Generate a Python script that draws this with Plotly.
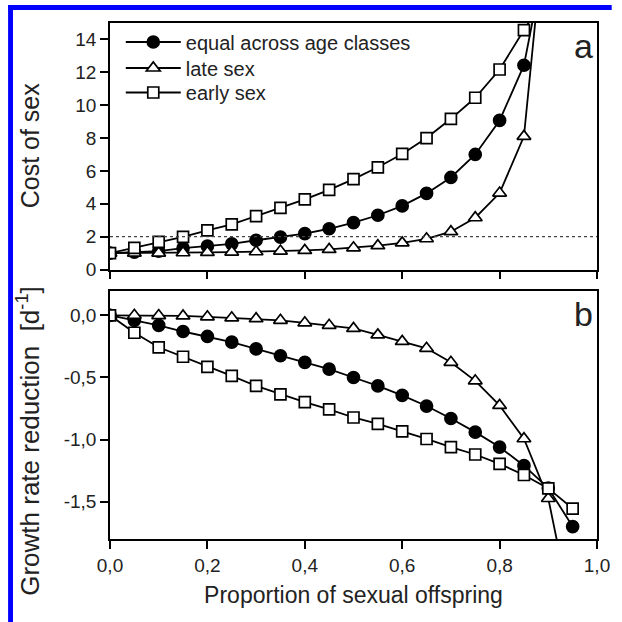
import plotly.graph_objects as go

# ---------------- data ----------------
prop_a = [0.0, 0.05, 0.1, 0.15, 0.2, 0.25, 0.3, 0.35, 0.4, 0.45, 0.5,
          0.55, 0.6, 0.65, 0.7, 0.75, 0.8, 0.85, 0.9]
cost_equal = [1.0, 1.05, 1.12, 1.3, 1.42, 1.56, 1.78, 1.97, 2.18, 2.48, 2.85,
              3.3, 3.87, 4.63, 5.6, 7.0, 9.07, 12.43, 20.0]
cost_late = [1.0, 1.0, 1.0, 1.02, 1.04, 1.06, 1.08, 1.12, 1.16, 1.22, 1.32,
             1.45, 1.62, 1.87, 2.3, 3.15, 4.65, 8.1, 23.1]
cost_early = [1.0, 1.32, 1.68, 1.98, 2.38, 2.75, 3.25, 3.75, 4.27, 4.85, 5.5,
              6.22, 7.03, 8.0, 9.17, 10.45, 12.17, 14.57, 16.9]

prop_b = [0.0, 0.05, 0.1, 0.15, 0.2, 0.25, 0.3, 0.35, 0.4, 0.45, 0.5,
          0.55, 0.6, 0.65, 0.7, 0.75, 0.8, 0.85, 0.9, 0.95]
gr_equal = [0.0, -0.04, -0.08, -0.13, -0.17, -0.215, -0.27, -0.325, -0.378, -0.433, -0.5,
            -0.568, -0.644, -0.73, -0.83, -0.94, -1.06, -1.21, -1.39, -1.70]
gr_late = [0.0, 0.0, -0.002, -0.005, -0.012, -0.02, -0.027, -0.04, -0.06, -0.08, -0.105,
           -0.157, -0.21, -0.265, -0.378, -0.527, -0.725, -0.993, -1.474, -2.43]
gr_early = [0.0, -0.14, -0.257, -0.333, -0.414, -0.487, -0.568, -0.636, -0.698, -0.757, -0.822,
            -0.874, -0.933, -0.995, -1.06, -1.12, -1.195, -1.285, -1.393, -1.555]

series_names = ["equal across age classes", "late sex", "early sex"]
ref_cost = 2.0

x_ticks = [0.0, 0.2, 0.4, 0.6, 0.8, 1.0]
x_ticktext = ["0,0", "0,2", "0,4", "0,6", "0,8", "1,0"]
ya_ticks = [0, 2, 4, 6, 8, 10, 12, 14]
yb_ticks = [-1.5, -1.0, -0.5, 0.0]
yb_ticktext = ["-1,5", "-1,0", "-0,5", "0,0"]

# ---------------- style ----------------
FONT = "Arial"
TXT = "#222222"
W = H = 622
ML, MR, MT, MB = 110, 15, 23, 83
plot_h = H - MT - MB
plot_w = W - ML - MR

def px2paper(p):
    return (p - ML) / plot_w

def py2paper(p):
    return (H - MB - p) / plot_h

dom_a = [py2paper(269.5), 1.0]
dom_b = [0.0, py2paper(290.5)]

styles = [
    dict(symbol="circle", fill="black", size=12),
    dict(symbol="triangle-up", fill="white", size=12),
    dict(symbol="square", fill="white", size=11),
]
legend_ids = ["legend", "legend2", "legend3"]
legend_rows_px = [42, 68, 92.5]

fig = go.Figure()
for name, ys, st, lg in zip(series_names, [cost_equal, cost_late, cost_early], styles, legend_ids):
    fig.add_trace(go.Scatter(
        x=prop_a, y=ys, name=name, mode="lines+markers", legend=lg,
        line=dict(color="black", width=1.8),
        marker=dict(symbol=st["symbol"], size=st["size"], color=st["fill"],
                    line=dict(color="black", width=1.7)),
        xaxis="x", yaxis="y", cliponaxis=True,
    ))
for name, ys, st in zip(series_names, [gr_equal, gr_late, gr_early], styles):
    fig.add_trace(go.Scatter(
        x=prop_b, y=ys, name=name, mode="lines+markers", showlegend=False,
        line=dict(color="black", width=1.8),
        marker=dict(symbol=st["symbol"], size=st["size"], color=st["fill"],
                    line=dict(color="black", width=1.7)),
        xaxis="x2", yaxis="y2", cliponaxis=True,
    ))

axis_common = dict(showline=True, linecolor="black", linewidth=1.6, mirror=True,
                   ticks="outside", ticklen=8, tickwidth=1.6, tickcolor="black",
                   showgrid=False, zeroline=False,
                   tickfont=dict(family=FONT, size=19, color=TXT))

legend_layout = {}
for lg, row in zip(legend_ids, legend_rows_px):
    legend_layout[lg] = dict(x=px2paper(121), y=py2paper(row), xanchor="left", yanchor="middle",
                             bgcolor="rgba(0,0,0,0)", font=dict(family=FONT, size=20, color=TXT),
                             itemwidth=55, borderwidth=0)

fig.update_layout(
    width=W, height=H,
    margin=dict(l=ML, r=MR, t=MT, b=MB),
    paper_bgcolor="white", plot_bgcolor="white",
    font=dict(family=FONT, color=TXT),
    showlegend=True,
    xaxis=dict(domain=[0, 1], range=[0, 1], tickvals=x_ticks, showticklabels=False,
               anchor="y", **axis_common),
    yaxis=dict(domain=dom_a, range=[0, 15], tickvals=ya_ticks, anchor="x", **axis_common),
    xaxis2=dict(domain=[0, 1], range=[0, 1], tickvals=x_ticks, ticktext=x_ticktext,
                anchor="y2",
                title=dict(text="Proportion of sexual offspring", font=dict(family=FONT, size=23, color=TXT), standoff=12),
                **axis_common),
    yaxis2=dict(domain=dom_b, range=[-1.8, 0.2], tickvals=yb_ticks, ticktext=yb_ticktext, anchor="x2",
                **axis_common),
    **legend_layout,
)

# y-axis titles
fig.add_annotation(text="Cost of sex", xref="paper", yref="paper", x=px2paper(45), y=py2paper(145),
                   xanchor="right", yanchor="middle", textangle=-90, showarrow=False,
                   font=dict(family=FONT, size=25, color=TXT))
fig.add_annotation(text="Growth rate reduction  [d<sup>-1</sup>]", xref="paper", yref="paper",
                   x=px2paper(45), y=py2paper(441),
                   xanchor="right", yanchor="middle", textangle=-90, showarrow=False,
                   font=dict(family=FONT, size=26, color=TXT))

# dotted reference line at cost = 2
fig.add_shape(type="line", xref="x", yref="y", x0=0, x1=1, y0=ref_cost, y1=ref_cost,
              line=dict(color="#444444", width=1.3, dash="dot"))

# panel letters
fig.add_annotation(text="a", xref="x domain", yref="y domain", x=0.995, y=0.99,
                   xanchor="right", yanchor="top", showarrow=False,
                   font=dict(family=FONT, size=34, color=TXT))
fig.add_annotation(text="b", xref="x2 domain", yref="y2 domain", x=0.995, y=0.99,
                   xanchor="right", yanchor="top", showarrow=False,
                   font=dict(family=FONT, size=34, color=TXT))

# blue frame (left and top)
fig.add_shape(type="rect", xref="paper", yref="paper",
              x0=px2paper(6), x1=px2paper(11), y0=py2paper(H), y1=py2paper(5),
              line=dict(width=0), fillcolor="#0000ff", layer="above")
fig.add_shape(type="rect", xref="paper", yref="paper",
              x0=px2paper(6), x1=px2paper(W), y0=py2paper(10), y1=py2paper(5),
              line=dict(width=0), fillcolor="#0000ff", layer="above")

fig.write_html("out.html", config={"displayModeBar": False},
               post_script="document.body.style.margin='0';document.body.style.overflow='hidden';")
